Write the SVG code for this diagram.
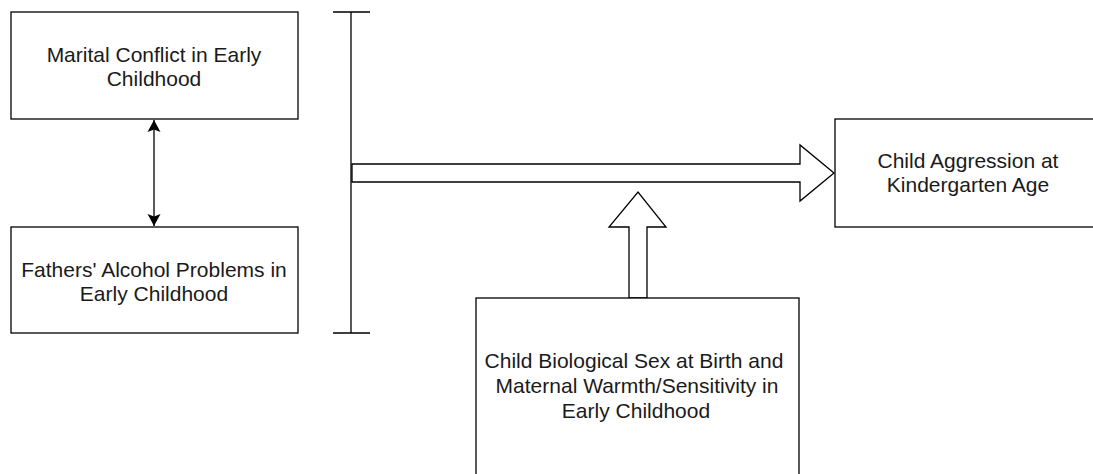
<svg xmlns="http://www.w3.org/2000/svg" width="1093" height="474" viewBox="0 0 1093 474">
<style>
.box{fill:#fff;stroke:#000;stroke-width:1.3}
.ln{fill:none;stroke:#000;stroke-width:1.3}
.blk{fill:#fff;stroke:#000;stroke-width:1.3;stroke-linejoin:miter}
text{font-family:"Liberation Sans",Arial,Helvetica,sans-serif;font-size:21px;fill:#1a1a1a;text-anchor:middle}
</style>
<defs>
<marker id="ah" viewBox="0 0 12 14" refX="12" refY="7" markerWidth="12" markerHeight="14" markerUnits="userSpaceOnUse" orient="auto-start-reverse">
<path d="M0,0.5 L12,7 L0,13.5 L2.5,7 Z" fill="#000"/>
</marker>
</defs>
<rect width="1093" height="474" fill="#fff"/>
<g id="connectors">
<line class="ln" x1="154" y1="120" x2="154" y2="226" marker-start="url(#ah)" marker-end="url(#ah)"/>
<path id="bracket" class="ln" d="M333,12 H370 M351,12 V333 M333,333 H370"/>
<path id="harrow" class="blk" d="M352,164 H800 V145 L834,173 L800,201 V182 H352 Z"/>
<path id="varrow" class="blk" d="M629,298 V227 H609 L638,192 L666,227 H647 V298 Z"/>
</g>
<g id="n1">
<rect class="box" x="11" y="12" width="287" height="107"/>
<text x="154" y="62">Marital Conflict in Early</text>
<text x="154" y="86">Childhood</text>
</g>
<g id="n2">
<rect class="box" x="11" y="227" width="287" height="106"/>
<text x="154" y="277">Fathers' Alcohol Problems in</text>
<text x="154" y="301">Early Childhood</text>
</g>
<g id="n3">
<rect class="box" x="835" y="119" width="270" height="108"/>
<text x="968" y="168">Child Aggression at</text>
<text x="968" y="192">Kindergarten Age</text>
</g>
<g id="n4">
<rect class="box" x="476" y="298" width="323" height="190"/>
<text x="634" y="368">Child Biological Sex at Birth and</text>
<text x="637" y="393">Maternal Warmth/Sensitivity in</text>
<text x="636" y="418">Early Childhood</text>
</g>
</svg>
